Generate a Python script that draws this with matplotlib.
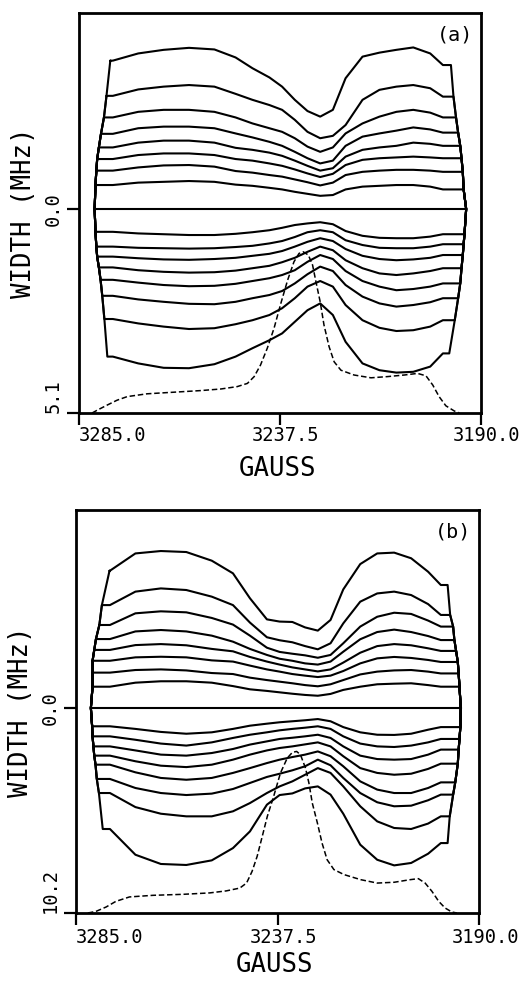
import matplotlib
matplotlib.use("Agg")
import matplotlib.pyplot as plt
import matplotlib.transforms as mtransforms

plt.rcParams["font.family"] = "DejaVu Sans Mono"

# field values (G) at which every contour trace is sampled
field = [3277, 3271, 3265, 3259, 3253, 3248, 3244, 3240, 3237, 3234,
         3231, 3228, 3225, 3222, 3218, 3214, 3210, 3206, 3202, 3199]

# ---- (a) ------------------------------------------------------------
# contour traces above the zero line, outermost first (|width|, MHz)
upper_a = [
    [3.71, 3.89, 3.98, 4.03, 3.99, 3.79, 3.52, 3.29, 3.06, 2.73, 2.45, 2.31, 2.48, 3.27, 3.81, 3.91, 3.98, 4.04, 3.89, 3.60],
    [2.83, 2.99, 3.06, 3.10, 3.06, 2.88, 2.73, 2.60, 2.48, 2.23, 1.93, 1.77, 1.83, 2.10, 2.73, 2.98, 3.06, 3.10, 3.02, 2.81],
    [2.29, 2.43, 2.48, 2.48, 2.43, 2.29, 2.14, 2.02, 1.93, 1.77, 1.56, 1.43, 1.54, 1.89, 2.14, 2.31, 2.43, 2.48, 2.41, 2.29],
    [1.88, 2.02, 2.06, 2.06, 2.02, 1.89, 1.79, 1.68, 1.58, 1.43, 1.27, 1.14, 1.21, 1.58, 1.81, 1.89, 1.96, 2.04, 1.99, 1.91],
    [1.54, 1.66, 1.71, 1.71, 1.66, 1.53, 1.48, 1.41, 1.33, 1.21, 1.08, 0.96, 1.02, 1.31, 1.48, 1.54, 1.58, 1.66, 1.63, 1.58],
    [1.25, 1.35, 1.39, 1.39, 1.35, 1.25, 1.21, 1.14, 1.08, 0.99, 0.89, 0.80, 0.88, 1.10, 1.23, 1.27, 1.29, 1.31, 1.29, 1.27],
    [0.96, 1.04, 1.09, 1.10, 1.06, 0.95, 0.91, 0.85, 0.81, 0.74, 0.67, 0.59, 0.66, 0.85, 0.93, 0.96, 0.98, 0.98, 0.96, 0.93],
    [0.60, 0.66, 0.68, 0.70, 0.68, 0.61, 0.58, 0.53, 0.49, 0.43, 0.38, 0.33, 0.35, 0.49, 0.56, 0.58, 0.60, 0.60, 0.56, 0.49],
]
# traces below the zero line, outermost first
lower_a = [
    [3.69, 3.86, 3.97, 3.98, 3.88, 3.69, 3.48, 3.28, 3.11, 2.82, 2.53, 2.36, 2.65, 3.32, 3.86, 4.03, 4.09, 4.07, 3.94, 3.61],
    [2.75, 2.86, 2.94, 3.00, 2.98, 2.88, 2.78, 2.65, 2.48, 2.23, 1.94, 1.80, 1.94, 2.40, 2.78, 2.97, 3.05, 3.03, 2.94, 2.78],
    [2.17, 2.26, 2.32, 2.37, 2.38, 2.32, 2.23, 2.15, 2.05, 1.86, 1.63, 1.44, 1.55, 1.90, 2.19, 2.36, 2.44, 2.40, 2.33, 2.23],
    [1.77, 1.84, 1.90, 1.93, 1.92, 1.87, 1.80, 1.73, 1.65, 1.53, 1.32, 1.15, 1.25, 1.55, 1.80, 1.94, 2.03, 2.00, 1.94, 1.86],
    [1.46, 1.53, 1.57, 1.59, 1.58, 1.54, 1.48, 1.42, 1.33, 1.22, 1.07, 0.94, 1.03, 1.28, 1.48, 1.61, 1.65, 1.61, 1.55, 1.48],
    [1.19, 1.23, 1.26, 1.27, 1.25, 1.22, 1.17, 1.12, 1.05, 0.94, 0.82, 0.73, 0.80, 1.00, 1.17, 1.25, 1.28, 1.26, 1.22, 1.15],
    [0.94, 0.97, 0.98, 0.99, 0.98, 0.95, 0.92, 0.86, 0.80, 0.70, 0.58, 0.53, 0.58, 0.78, 0.90, 0.97, 0.98, 0.98, 0.94, 0.88],
    [0.57, 0.61, 0.63, 0.65, 0.65, 0.62, 0.58, 0.53, 0.47, 0.40, 0.36, 0.33, 0.38, 0.55, 0.67, 0.72, 0.73, 0.73, 0.69, 0.63],
]
# field where each trace turns down the side (left, right)
upper_ends_a = [(3277.6, 3197.1), (3278.5, 3196.5), (3279.1, 3195.9), (3279.8, 3195.4),
                (3280.3, 3194.9), (3280.7, 3194.6), (3280.9, 3194.3), (3281.1, 3194.1)]
lower_ends_a = [(3278.3, 3197.5), (3279.0, 3196.2), (3279.5, 3195.4), (3279.9, 3194.9),
                (3280.3, 3194.6), (3280.7, 3194.3), (3280.9, 3194.1), (3281.1, 3193.9)]
edge_a = (3281.3, 3193.5)

# absorption spectrum drawn dashed
spec_field_a = [3281.9, 3280.7, 3278.3, 3276.0, 3273.6, 3268.9, 3262.6, 3256.3, 3251.5, 3247.6,
                3245.2, 3243.6, 3242.1, 3240.5, 3238.9, 3237.3, 3235.7, 3234.2, 3233.0, 3232.0,
                3230.8, 3229.8, 3229.0, 3228.0, 3227.1, 3225.9, 3224.7, 3223.1, 3220.0, 3216.0,
                3212.1, 3208.1, 3205.0, 3203.0, 3201.4, 3199.9, 3198.3, 3196.3, 3195.1]
spec_width_a = [5.10, 5.03, 4.90, 4.78, 4.69, 4.62, 4.58, 4.54, 4.50, 4.44,
                4.36, 4.19, 3.90, 3.48, 2.98, 2.36, 1.78, 1.32, 1.11, 1.07,
                1.15, 1.40, 1.82, 2.32, 2.90, 3.44, 3.82, 4.03, 4.15, 4.22,
                4.19, 4.15, 4.11, 4.17, 4.40, 4.69, 4.92, 5.05, 5.10]

# ---- (b) ------------------------------------------------------------
upper_b = [
    [6.83, 7.69, 7.81, 7.76, 7.33, 6.70, 5.46, 4.41, 4.30, 4.28, 4.01, 3.85, 4.38, 5.90, 7.16, 7.69, 7.73, 7.45, 6.78, 6.12],
    [5.12, 5.79, 5.95, 5.87, 5.54, 5.12, 4.25, 3.52, 3.37, 3.27, 3.08, 2.92, 3.22, 4.21, 5.29, 5.70, 5.79, 5.62, 5.17, 4.63],
    [4.13, 4.71, 4.81, 4.76, 4.48, 4.15, 3.60, 3.00, 2.79, 2.70, 2.62, 2.50, 2.64, 3.22, 4.05, 4.54, 4.74, 4.68, 4.35, 4.05],
    [3.43, 3.81, 3.88, 3.81, 3.60, 3.30, 2.94, 2.64, 2.45, 2.35, 2.22, 2.16, 2.31, 2.80, 3.42, 3.78, 3.90, 3.78, 3.58, 3.38],
    [2.89, 3.13, 3.18, 3.12, 2.94, 2.82, 2.54, 2.31, 2.16, 2.02, 1.92, 1.82, 1.92, 2.26, 2.75, 3.08, 3.18, 3.12, 2.97, 2.84],
    [2.35, 2.52, 2.55, 2.52, 2.37, 2.31, 2.11, 1.92, 1.81, 1.69, 1.61, 1.54, 1.61, 1.84, 2.22, 2.47, 2.54, 2.49, 2.39, 2.29],
    [1.76, 1.89, 1.92, 1.87, 1.74, 1.69, 1.51, 1.39, 1.31, 1.23, 1.14, 1.08, 1.18, 1.39, 1.67, 1.81, 1.87, 1.89, 1.81, 1.72],
    [1.06, 1.26, 1.33, 1.33, 1.26, 1.09, 0.93, 0.85, 0.78, 0.71, 0.65, 0.61, 0.70, 0.90, 1.06, 1.18, 1.21, 1.23, 1.14, 1.06],
]
lower_b = [
    [6.02, 7.30, 7.76, 7.81, 7.58, 6.97, 6.14, 4.81, 4.33, 4.25, 4.00, 3.90, 4.31, 5.26, 6.80, 7.55, 7.83, 7.71, 7.25, 6.72],
    [4.23, 4.93, 5.26, 5.39, 5.39, 5.14, 4.73, 4.23, 3.90, 3.65, 3.32, 2.99, 3.23, 3.90, 4.89, 5.64, 5.97, 6.02, 5.75, 5.39],
    [3.53, 3.98, 4.23, 4.33, 4.26, 4.03, 3.73, 3.43, 3.27, 3.10, 2.90, 2.57, 2.85, 3.48, 4.23, 4.69, 4.89, 4.86, 4.59, 4.31],
    [2.82, 3.20, 3.48, 3.57, 3.48, 3.23, 2.99, 2.74, 2.57, 2.44, 2.32, 2.16, 2.40, 2.90, 3.65, 4.06, 4.23, 4.23, 3.98, 3.70],
    [2.37, 2.65, 2.87, 2.94, 2.82, 2.57, 2.32, 2.11, 1.99, 1.91, 1.81, 1.71, 1.91, 2.40, 2.99, 3.23, 3.32, 3.27, 3.03, 2.77],
    [1.91, 2.11, 2.32, 2.37, 2.24, 2.04, 1.82, 1.66, 1.54, 1.48, 1.41, 1.33, 1.49, 1.91, 2.37, 2.54, 2.57, 2.54, 2.32, 2.07],
    [1.41, 1.58, 1.77, 1.87, 1.71, 1.49, 1.33, 1.21, 1.11, 1.04, 0.98, 0.91, 1.04, 1.41, 1.77, 1.91, 1.94, 1.87, 1.71, 1.54],
    [0.91, 1.04, 1.19, 1.28, 1.21, 1.04, 0.88, 0.78, 0.71, 0.66, 0.61, 0.55, 0.66, 0.95, 1.21, 1.33, 1.34, 1.28, 1.08, 0.95],
]
upper_ends_b = [(3277.1, 3197.4), (3278.9, 3196.8), (3279.5, 3196.1), (3280.3, 3195.8),
                (3280.7, 3195.4), (3281.1, 3195.0), (3281.1, 3194.8), (3281.1, 3194.6)]
lower_ends_b = [(3278.7, 3197.4), (3279.6, 3196.9), (3280.1, 3196.1), (3280.4, 3195.6),
                (3280.7, 3195.0), (3280.9, 3194.8), (3281.1, 3194.6), (3281.2, 3194.4)]
edge_b = (3281.5, 3194.3)

spec_field_b = [3282.2, 3280.3, 3277.9, 3275.6, 3272.4, 3266.9, 3259.8, 3253.5, 3249.6, 3246.4,
                3244.8, 3243.5, 3242.3, 3241.1, 3239.9, 3238.4, 3236.8, 3235.2, 3234.0, 3233.0,
                3232.1, 3230.9, 3230.1, 3229.3, 3228.1, 3227.0, 3225.8, 3224.2, 3221.8, 3217.9,
                3214.0, 3210.0, 3206.2, 3204.3, 3202.7, 3201.1, 3199.5, 3198.0, 3196.4, 3195.2]
spec_width_b = [10.20, 10.12, 9.90, 9.62, 9.40, 9.32, 9.27, 9.20, 9.10, 8.96,
                8.71, 8.13, 7.38, 6.39, 5.39, 4.39, 3.23, 2.49, 2.21, 2.16,
                2.32, 2.99, 3.73, 4.73, 5.72, 6.72, 7.55, 8.04, 8.29, 8.54,
                8.71, 8.67, 8.54, 8.49, 8.71, 9.12, 9.62, 9.95, 10.15, 10.20]

ticks_field = [3285.0, 3237.5, 3190.0]


def contour_loop(k, upper, lower, up_ends, lo_ends, edge):
    """Closed path for contour k: top trace, right side, bottom trace, left side.
    The sides run through the turning points of all inner contours."""
    n = len(upper)
    xs = [up_ends[k][0]] + field + [up_ends[k][1]]
    ys = [-upper[k][0]] + [-w for w in upper[k]] + [-upper[k][-1]]
    for j in range(k + 1, n):
        xs.append(up_ends[j][1]); ys.append(-upper[j][-1])
    xs.append(edge[1]); ys.append(0.0)
    for j in range(n - 1, k - 1, -1):
        xs.append(lo_ends[j][1]); ys.append(lower[j][-1])
    xs += field[::-1]; ys += lower[k][::-1]
    for j in range(k, n):
        xs.append(lo_ends[j][0]); ys.append(lower[j][0])
    xs.append(edge[0]); ys.append(0.0)
    for j in range(n - 1, k - 1, -1):
        xs.append(up_ends[j][0]); ys.append(-upper[j][0])
    return xs, ys


def draw_panel(ax, upper, lower, up_ends, lo_ends, edge, spec_x, spec_w,
               top, bottom, tag, xlab_y, xpad):
    for k in range(len(upper)):
        xs, ys = contour_loop(k, upper, lower, up_ends, lo_ends, edge)
        ax.plot(xs, ys, color="black", lw=1.5,
                solid_joinstyle="round", solid_capstyle="round")
    ax.plot([edge[0], edge[1]], [0, 0], color="black", lw=1.5)
    ax.plot(spec_x, spec_w, color="black", lw=1.1, ls=(0, (3.6, 1.8)))

    ax.set_xlim(3285, 3190)
    ax.set_ylim(bottom, top)
    for s in ax.spines.values():
        s.set_linewidth(2.0)

    ax.set_xticks(ticks_field)
    ax.set_xticklabels([f"{v:.1f}" for v in ticks_field], fontsize=13.5)
    ax.set_yticks([0.0, bottom])
    ax.set_yticklabels(["0.0", f"{bottom:.1f}"], rotation=90, fontsize=13.5)
    ax.tick_params(axis="both", direction="out", length=8.5, width=1.6)
    ax.tick_params(axis="x", pad=xpad)
    ax.tick_params(axis="y", pad=3.5)

    xl = ax.get_xticklabels()
    xl[0].set_ha("left")
    shift = mtransforms.ScaledTranslation(0.06, 0, fig.dpi_scale_trans)
    for lab in xl[1:]:
        lab.set_transform(lab.get_transform() + shift)
    yl = ax.get_yticklabels()
    yl[0].set_va("center")
    yl[1].set_va("bottom")

    ax.set_xlabel("GAUSS", fontsize=18.5)
    ax.xaxis.set_label_coords(0.493, xlab_y)
    ax.xaxis.label.set_va("center")
    ax.set_ylabel("WIDTH (MHz)", fontsize=18.5)
    ax.yaxis.set_label_coords(-0.137, 0.5)
    ax.yaxis.label.set_va("center")

    ax.text(0.935, 0.945, tag, transform=ax.transAxes, fontsize=14.5,
            ha="center", va="center")


fig = plt.figure(figsize=(5.21, 9.81), dpi=100)
ax_a = fig.add_axes([0.1516, 0.5790, 0.7716, 0.4077])
ax_b = fig.add_axes([0.1459, 0.0693, 0.7735, 0.4108])

draw_panel(ax_a, upper_a, lower_a, upper_ends_a, lower_ends_a, edge_a,
           spec_field_a, spec_width_a, -4.9, 5.1, "(a)", -0.14, 1.0)
draw_panel(ax_b, upper_b, lower_b, upper_ends_b, lower_ends_b, edge_b,
           spec_field_b, spec_width_b, -9.85, 10.2, "(b)", -0.128, 2.5)

fig.savefig("out.png", dpi=100)
